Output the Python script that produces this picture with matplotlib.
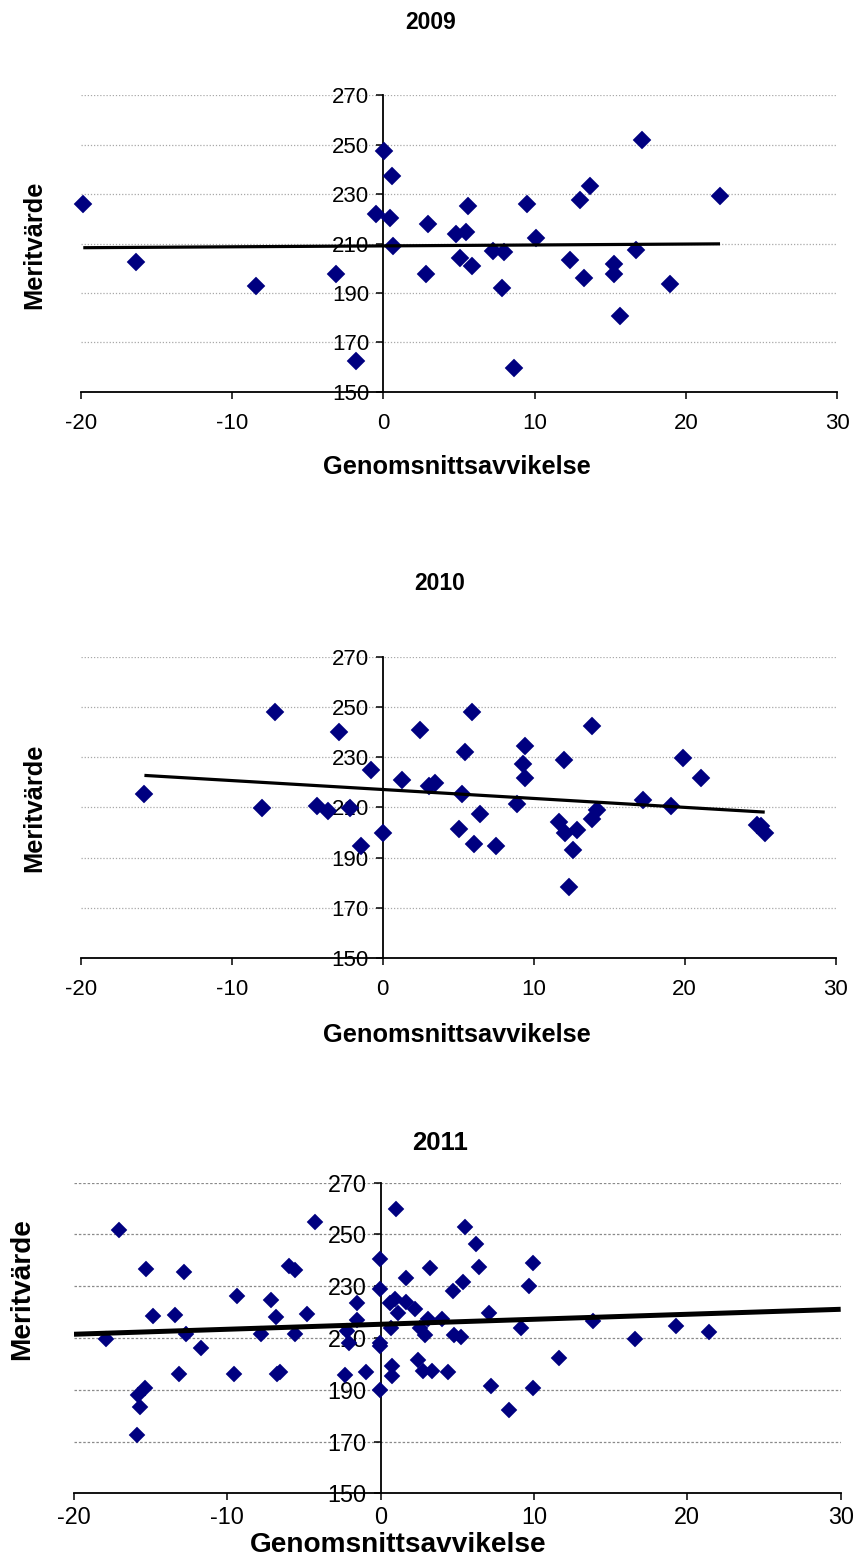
import matplotlib
matplotlib.use("Agg")
import matplotlib.pyplot as plt
import numpy as np

plt.rcParams['font.family'] = ['Liberation Sans', 'DejaVu Sans']

# ---------------- data ----------------
years = ["2009", "2010", "2011"]
x_label = "Genomsnittsavvikelse"
y_label = "Meritvärde"
x_ticks = [-20, -10, 0, 10, 20, 30]
y_ticks = [150, 170, 190, 210, 230, 250, 270]

x_2009 = [-19.83, -16.35, -8.41, -3.13, -1.80, -0.50, 0.05, 0.55, 0.44, 0.66,
          2.93, 2.80, 4.78, 5.07, 5.47, 5.60, 5.84, 9.52, 10.07, 7.27,
          7.98, 7.83, 8.64, 12.34, 13.24, 13.00, 13.68, 15.25, 15.25, 15.64,
          16.70, 17.10, 18.95, 22.25]
y_2009 = [226.0, 202.4, 192.6, 197.5, 162.5, 221.8, 247.6, 237.2, 220.2, 209.0,
          217.9, 197.5, 213.8, 204.0, 214.5, 225.2, 200.7, 225.9, 212.3, 207.1,
          206.4, 191.8, 159.4, 203.2, 195.9, 227.6, 233.3, 201.7, 197.5, 180.5,
          207.2, 251.8, 193.6, 229.2]

x_2010 = [-15.78, -7.13, -7.97, -4.37, -3.62, -2.89, -2.16, -1.46, -0.79, 0.0,
          1.30, 2.49, 3.07, 3.47, 5.03, 5.28, 5.43, 5.94, 6.47, 6.07,
          7.53, 8.87, 9.27, 9.40, 9.40, 11.66, 12.03, 12.05, 12.87, 12.58,
          12.32, 13.89, 13.89, 14.17, 17.22, 19.07, 19.87, 21.06, 24.77, 25.08,
          25.30]
y_2010 = [215.3, 248.0, 209.7, 210.5, 208.8, 239.9, 209.7, 194.7, 224.9, 200.0,
          220.9, 240.7, 218.6, 219.6, 201.6, 215.3, 232.0, 248.0, 207.3, 195.4,
          194.6, 211.2, 227.3, 234.4, 221.8, 204.3, 228.8, 200.0, 201.0, 193.0,
          178.5, 242.4, 205.6, 208.9, 212.9, 210.5, 229.6, 221.8, 202.9, 202.7,
          200.0]

x_2011 = [-17.92, -17.05, -15.92, -15.70, -15.81, -15.37, -15.33, -14.83, -13.42, -13.16,
          -12.85, -12.70, -11.73, -9.55, -9.39, -7.83, -7.16, -6.85, -6.74, -6.59,
          -6.00, -5.57, -5.57, -4.81, -4.31, -2.22, -2.06, -2.32, -1.55, -1.55,
          -0.95, -0.05, -0.05, -0.05, -0.02, -0.05, 0.98, 1.65, 3.22, 0.61,
          0.94, 1.15, 1.65, 2.27, 0.70, 2.56, 2.89, 0.74, 0.74, 2.45,
          2.78, 3.33, 3.11, 3.98, 4.36, 4.70, 4.78, 5.26, 5.39, 5.48,
          6.24, 6.41, 7.04, 7.21, 8.37, 9.13, 9.65, 9.92, 9.92, 11.65,
          13.83, 16.61, 19.26, 21.44]
y_2011 = [209.6, 251.7, 172.5, 183.2, 188.0, 190.6, 236.7, 218.5, 218.7, 196.0,
          235.5, 211.5, 206.2, 196.2, 226.1, 211.7, 224.7, 218.1, 196.0, 196.9,
          237.7, 236.3, 211.6, 219.3, 254.7, 212.6, 208.1, 195.6, 223.6, 217.0,
          197.0, 240.4, 229.0, 208.0, 206.8, 190.0, 259.8, 233.0, 236.9, 223.4,
          225.0, 219.8, 224.1, 221.2, 213.8, 213.8, 211.2, 199.3, 195.2, 201.5,
          197.1, 197.1, 217.5, 217.5, 197.0, 228.2, 211.3, 210.5, 231.5, 252.8,
          246.4, 237.6, 219.5, 191.4, 182.1, 213.8, 230.0, 239.0, 190.8, 202.3,
          216.7, 209.7, 214.8, 212.2]

# ---------------- figure ----------------
W, H = 856, 1558
fig = plt.figure(figsize=(W / 100, H / 100), dpi=100)

def fx(px):
    return px / W

def fy(py):
    return 1 - py / H

panels = [
    dict(x=x_2009, y=y_2009, rect=(80.7, 95.3, 837.3, 391.7), title=(431, 22.5),
         ylab=(34, 245), xlab=(457, 467), full_trend=False, tick_fs=16, lab_fs=18.3,
         title_fs=16.5, grid_ls=(0, (1, 1.5)), grid_col='#a8a8a8', ms=9.2, lw=2.3,
         xpad=10),
    dict(x=x_2010, y=y_2010, rect=(80.7, 656.7, 835.7, 958.3), title=(440, 583),
         ylab=(34, 808), xlab=(457, 1035), full_trend=False, tick_fs=16, lab_fs=18.3,
         title_fs=16.5, grid_ls=(0, (1, 1.5)), grid_col='#a8a8a8', ms=9.2, lw=2.3,
         xpad=10),
    dict(x=x_2011, y=y_2011, rect=(74.0, 1182.7, 840.7, 1493.3), title=(440, 1143),
         ylab=(22, 1289), xlab=(398, 1545.5), full_trend=True, tick_fs=16.8, lab_fs=20.2,
         title_fs=18.5, grid_ls=(0, (2, 1.5)), grid_col='#8a8a8a', ms=8.6, lw=3.6,
         xpad=4),
]

for yr, p in zip(years, panels):
    l, t, r, b = p['rect']
    ax = fig.add_axes([fx(l), fy(b), fx(r) - fx(l), fy(t) - fy(b)])
    ax.set_xlim(-20, 30)
    ax.set_ylim(150, 270)
    ax.set_xticks(x_ticks)
    ax.set_yticks(y_ticks)
    ax.set_xticklabels([str(v) for v in x_ticks])
    ax.set_yticklabels([str(v) for v in y_ticks])
    for s in ('top', 'right'):
        ax.spines[s].set_visible(False)
    ax.spines['left'].set_position(('data', 0))
    ax.spines['left'].set_linewidth(1.3)
    ax.spines['bottom'].set_linewidth(1.3)
    ax.tick_params(axis='y', direction='out', length=5, width=1.1, pad=5,
                   labelsize=p['tick_fs'])
    ax.tick_params(axis='x', direction='out', length=5, width=1.1, pad=p['xpad'],
                   labelsize=p['tick_fs'])
    ax.yaxis.grid(True, linestyle=p['grid_ls'], color=p['grid_col'], linewidth=0.9)
    ax.set_axisbelow(True)

    xs = np.array(p['x'])
    ys = np.array(p['y'])
    ax.plot(xs, ys, linestyle='none', marker='D', ms=p['ms'], color='#000080',
            markeredgecolor='#000080', markeredgewidth=0.3, zorder=3, clip_on=False)
    k, m = np.polyfit(xs, ys, 1)
    if p['full_trend']:
        tx = np.array([-20, 30])
    else:
        tx = np.array([xs.min(), xs.max()])
    ax.plot(tx, k * tx + m, color='black', linewidth=p['lw'], zorder=4,
            solid_capstyle='butt')

    fig.text(fx(p['title'][0]), fy(p['title'][1]), yr, ha='center', va='center',
             fontsize=p['title_fs'], fontweight='bold')
    fig.text(fx(p['ylab'][0]), fy(p['ylab'][1]), y_label, ha='center', va='center',
             rotation=90, fontsize=p['lab_fs'], fontweight='bold')
    fig.text(fx(p['xlab'][0]), fy(p['xlab'][1]), x_label, ha='center', va='center',
             fontsize=p['lab_fs'], fontweight='bold')

fig.savefig("out.png", dpi=100)
